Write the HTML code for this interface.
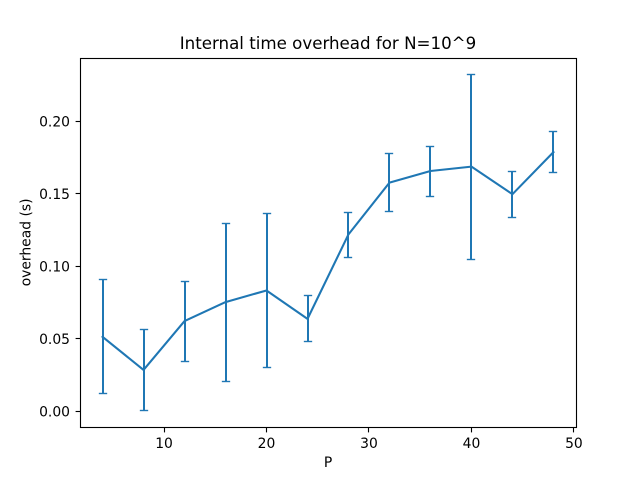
<!DOCTYPE html>
<html>
<head>
<meta charset="utf-8">
<title>Internal time overhead for N=10^9</title>
<style>
html,body{margin:0;padding:0;background:#fff;width:640px;height:480px;overflow:hidden}
svg{display:block}
text{font-family:"DejaVu Sans",sans-serif;fill:#000}
</style>
</head>
<body>
<svg id="chart" xmlns="http://www.w3.org/2000/svg" width="640" height="480" viewBox="0 0 640 480">
<rect width="640" height="480" fill="#fff"/>
<text x="328" y="49" font-size="16.67" text-anchor="middle">Internal time overhead for N=10^9</text>
<text x="328" y="467" font-size="13.89" text-anchor="middle">P</text>
<text transform="translate(30.5 242.4) rotate(-90)" font-size="13.89" text-anchor="middle">overhead (s)</text>
<g id="marks"></g>
<g id="axes"></g>
</svg>
<script>
const categories = [4, 8, 12, 16, 20, 24, 28, 32, 36, 40, 44, 48];
const meanValues = [0.0513, 0.0285, 0.0622, 0.0753, 0.0833, 0.0637, 0.1220, 0.1577, 0.1657, 0.1687, 0.1497, 0.1787];
const lowerValues = [0.0121, 0.0004, 0.0342, 0.0204, 0.0300, 0.0480, 0.1059, 0.1377, 0.1480, 0.1045, 0.1335, 0.1645];
const upperValues = [0.0907, 0.0563, 0.0894, 0.1296, 0.1363, 0.0797, 0.1369, 0.1777, 0.1825, 0.2321, 0.1652, 0.1930];
const xTicks = [10, 20, 30, 40, 50];
const yTicks = [0, 0.05, 0.1, 0.15, 0.2];
const yTickLabels = ['0.00', '0.05', '0.10', '0.15', '0.20'];

const NS = 'http://www.w3.org/2000/svg';
const plot = {left: 80, right: 576, top: 57.6, bottom: 427.2};
const xDomain = [1.8, 50.2];
const yDomain = [-0.011, 0.2439];
const color = '#1f77b4';

function xScale(v) {
  return plot.left + (v - xDomain[0]) / (xDomain[1] - xDomain[0]) * (plot.right - plot.left);
}
function yScale(v) {
  return plot.bottom - (v - yDomain[0]) / (yDomain[1] - yDomain[0]) * (plot.bottom - plot.top);
}
function snap(v) {
  return Math.floor(v) + 0.5;
}
function make(parent, tag, attrs) {
  const el = document.createElementNS(NS, tag);
  for (const k in attrs) el.setAttribute(k, attrs[k]);
  parent.appendChild(el);
  return el;
}

const marks = document.getElementById('marks');
const axes = document.getElementById('axes');

categories.forEach(function (p, i) {
  const x = Math.round(xScale(p));
  const yLow = snap(yScale(lowerValues[i]));
  const yHigh = snap(yScale(upperValues[i]));
  const bar = make(marks, 'line', {x1: x, x2: x, y1: yLow, y2: yHigh, stroke: color, 'stroke-width': 2});
  
  
  [yLow, yHigh].forEach(function (y) {
    const cap = make(marks, 'line', {x1: x - 4.17, x2: x + 4.17, y1: y, y2: y, stroke: color, 'stroke-width': 1.39});
    
    
  });
});

const points = categories.map(function (p, i) {
  return xScale(p).toFixed(2) + ',' + yScale(meanValues[i]).toFixed(2);
}).join(' ');
const series = make(marks, 'polyline', {points: points, fill: 'none', stroke: color, 'stroke-width': 2.08, 'stroke-linejoin': 'round', 'stroke-linecap': 'square'});



const frame = make(axes, 'rect', {x: 80.5, y: 58.5, width: 496, height: 369, fill: 'none', stroke: '#000', 'stroke-width': 1.11});



xTicks.forEach(function (t) {
  const x = snap(xScale(t));
  const tick = make(axes, 'line', {x1: x, x2: x, y1: 427.5, y2: 432.4, stroke: '#000', 'stroke-width': 1.11});
  
  
  const label = make(axes, 'text', {x: xScale(t), y: 448, 'font-size': 13.89, 'text-anchor': 'middle'});
  
  
  label.textContent = String(t);
});

yTicks.forEach(function (t, i) {
  const y = snap(yScale(t));
  const tick = make(axes, 'line', {x1: 75.6, x2: 80.5, y1: y, y2: y, stroke: '#000', 'stroke-width': 1.11});
  
  
  const label = make(axes, 'text', {x: 70, y: yScale(t) + 5.2, 'font-size': 13.89, 'text-anchor': 'end'});
  
  
  label.textContent = yTickLabels[i];
});
</script>
</body>
</html>
